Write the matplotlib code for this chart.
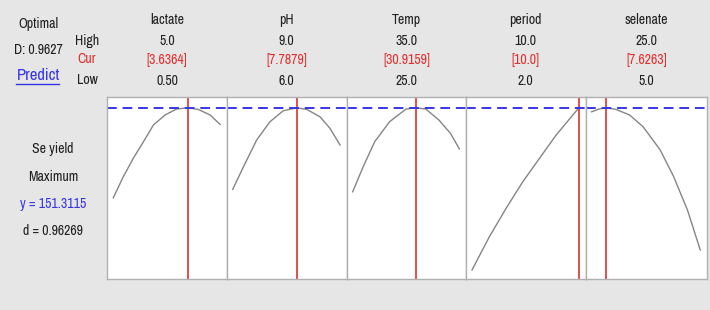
import matplotlib.pyplot as plt
from matplotlib import font_manager as fm

# response optimizer data
factors = ['lactate', 'pH', 'Temp', 'period', 'selenate']
high_labels = ['5.0', '9.0', '35.0', '10.0', '25.0']
cur_labels = ['[3.6364]', '[7.7879]', '[30.9159]', '[10.0]', '[7.6263]']
low_labels = ['0.50', '6.0', '25.0', '2.0', '5.0']
lows = [0.5, 6.0, 25.0, 2.0, 5.0]
highs = [5.0, 9.0, 35.0, 10.0, 25.0]
cur = [3.6364, 7.7879, 30.9159, 10.0, 7.6263]

lactate_x = [0.5, 0.92, 1.34, 1.77, 2.19, 2.68, 3.17, 3.64, 4.08, 4.58, 5.0]
lactate_y = [106.3, 116.8, 126.0, 134.3, 142.7, 147.7, 150.7, 151.3, 150.5, 147.7, 143.0]
ph_x = [6.0, 6.30, 6.67, 7.04, 7.41, 7.79, 8.07, 8.44, 8.72, 9.0]
ph_y = [110.5, 121.8, 135.2, 144.3, 149.8, 151.3, 150.5, 146.8, 141.0, 132.7]
temp_x = [25.0, 25.98, 27.06, 28.45, 30.0, 30.92, 31.85, 33.08, 34.17, 35.0]
temp_y = [109.3, 121.8, 134.3, 144.3, 150.7, 151.3, 150.7, 145.2, 138.5, 130.7]
period_x = [2.0, 3.30, 4.55, 5.80, 7.05, 8.30, 9.55, 10.0]
period_y = [70.2, 86.8, 101.0, 114.3, 126.0, 137.7, 147.7, 151.3]
selenate_x = [5.0, 6.37, 7.63, 9.50, 12.0, 14.49, 17.63, 20.12, 22.64, 25.0]
selenate_y = [149.3, 150.7, 151.3, 150.5, 147.7, 141.8, 130.2, 116.8, 100.2, 80.2]

curves_x = [lactate_x, ph_x, temp_x, period_x, selenate_x]
curves_y = [lactate_y, ph_y, temp_y, period_y, selenate_y]
y_opt = 151.3115

# narrow font if there is one, otherwise a plain sans at a smaller size
names = {f.name for f in fm.fontManager.ttflist}
fsize = 10
for cand in ['Liberation Sans Narrow', 'Archivo Narrow', 'Asap Condensed']:
    if cand in names:
        font = cand
        break
else:
    font = 'Roboto'
    fsize = 8.5
plt.rcParams['font.family'] = [font, 'DejaVu Sans']
plt.rcParams['font.size'] = fsize

W, H = 710, 310
fig = plt.figure(figsize=(W / 100, H / 100), dpi=100, facecolor='#e6e6e6')

red = '#e03030'
blue = '#3535e6'
dark = '#202020'
edges = [107.3, 226.7, 346.7, 466.0, 585.5, 707.0]
top, bottom = 97, 279

for i in range(5):
    x0, x1 = edges[i], edges[i + 1]
    ax = fig.add_axes([x0 / W, 1 - bottom / H, (x1 - x0) / W, (bottom - top) / H])
    ax.set_facecolor('white')
    rng = highs[i] - lows[i]
    ax.set_xlim(lows[i] - 0.056 * rng, highs[i] + 0.062 * rng)
    ax.set_ylim(65.7, 156.7)
    ax.plot(curves_x[i], curves_y[i], color='#858585', lw=1.0)
    ax.axvline(cur[i], color=red, lw=1.2)
    ax.axhline(y_opt, color=blue, lw=1.4, ls=(0, (5, 3)))
    ax.set_xticks([])
    ax.set_yticks([])
    for s in ax.spines.values():
        s.set_color('#b0b0b0')
        s.set_linewidth(1.0)

    cx = (x0 + x1) / 2 / W
    fig.text(cx, 1 - 20 / H, factors[i], ha='center', va='center', color=dark)
    fig.text(cx, 1 - 41 / H, high_labels[i], ha='center', va='center', color=dark)
    fig.text(cx, 1 - 60 / H, cur_labels[i], ha='center', va='center', color=red)
    fig.text(cx, 1 - 81 / H, low_labels[i], ha='center', va='center', color=dark)

# left-hand labels
fig.text(38 / W, 1 - 24 / H, 'Optimal', ha='center', va='center', color=dark)
fig.text(38 / W, 1 - 50 / H, 'D: 0.9627', ha='center', va='center', color=dark)
fig.text(38 / W, 1 - 75 / H, 'Predict', ha='center', va='center', color=blue,
         fontsize=fsize * 1.2)
fig.add_artist(plt.Line2D([16 / W, 59 / W], [1 - 84 / H, 1 - 84 / H], color=blue, lw=1))
fig.text(87 / W, 1 - 41 / H, 'High', ha='center', va='center', color=dark)
fig.text(87 / W, 1 - 59 / H, 'Cur', ha='center', va='center', color=red)
fig.text(87 / W, 1 - 80 / H, 'Low', ha='center', va='center', color=dark)

fig.text(53 / W, 1 - 149 / H, 'Se yield', ha='center', va='center', color=dark)
fig.text(53 / W, 1 - 177 / H, 'Maximum', ha='center', va='center', color=dark)
fig.text(53 / W, 1 - 204 / H, 'y = 151.3115', ha='center', va='center', color=blue)
fig.text(53 / W, 1 - 231 / H, 'd = 0.96269', ha='center', va='center', color=dark)

fig.savefig('out.png', dpi=100, facecolor=fig.get_facecolor())
